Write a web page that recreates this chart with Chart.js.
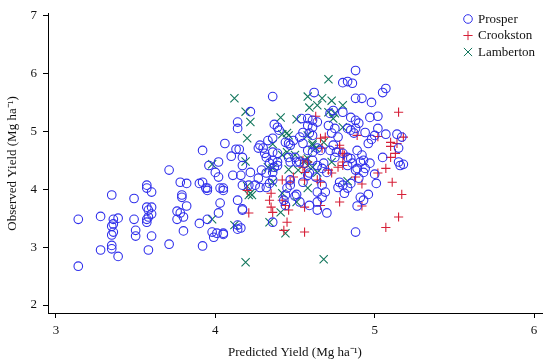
<!DOCTYPE html>
<html>
<head>
<meta charset="utf-8">
<script src="https://cdn.jsdelivr.net/npm/chart.js@4/dist/chart.umd.min.js"></script>
<style>
  html, body { margin: 0; padding: 0; background: #fff; }
  #wrap { width: 550px; height: 364px; position: relative; }
</style>
</head>
<body>
<div id="wrap"><canvas id="chart" width="550" height="364"></canvas></div>
<script>
// ===== Observed vs predicted yield, three sites =====

const xTicks = [3, 4, 5, 6];
const yTicks = [2, 3, 4, 5, 6, 7];
const siteNames = ['Prosper', 'Crookston', 'Lamberton'];

// [predicted, observed] in Mg/ha
const prosper = [
  [3.14,3.48],[3.14,2.67],[3.28,3.53],[3.28,2.95],[3.35,3.90],[3.36,3.48],[3.39,3.50],[3.35,3.36],
  [3.36,3.40],[3.36,3.26],[3.35,3.21],[3.35,3.03],[3.35,2.97],[3.39,2.84],[3.49,3.84],[3.49,3.48],
  [3.50,3.29],[3.50,3.19],[3.57,4.07],[3.57,4.02],[3.60,3.95],[3.57,3.69],[3.58,3.64],[3.60,3.69],
  [3.60,3.57],[3.57,3.48],[3.57,3.43],[3.58,3.52],[3.60,3.19],[3.58,2.95],[3.71,4.33],[3.78,4.12],
  [3.82,4.10],[3.79,3.90],[3.79,3.86],[3.82,3.71],[3.76,3.62],[3.78,3.59],[3.80,3.52],[3.76,3.48],
  [3.80,3.28],[3.71,3.05],[3.90,4.10],[3.94,4.02],[3.92,3.02],[3.96,4.41],[3.92,4.67],
  [4.14,5.16],[4.14,5.05],[4.06,4.79],[4.13,4.69],[4.15,4.69],[4.10,4.57],[4.02,4.47],[4.00,4.29],
  [4.02,4.21],[4.11,4.24],[3.92,4.12],[3.95,4.02],[4.03,4.02],[4.05,4.02],[4.62,5.67],
  [3.95,3.98],[4.05,3.98],[4.03,3.76],[4.14,3.81],[4.17,3.66],[4.02,3.59],[3.90,3.41],[3.95,3.48],
  [3.98,3.26],[3.99,3.17],[4.01,3.24],[4.05,3.24],[4.05,3.22],[4.14,3.38],[4.14,3.31],[4.36,3.43],
  [4.44,3.90],[4.43,3.81],[4.44,3.72],[4.51,3.91],
  [4.36,5.60],[4.22,5.34],[4.37,5.12],[4.39,5.07],[4.40,5.02],[4.36,4.88],[4.33,4.84],[4.28,4.76],
  [4.27,4.71],[4.30,4.71],[4.44,4.81],[4.46,4.79],[4.47,4.76],[4.49,4.84],[4.17,4.55],[4.17,4.41],
  [4.16,4.24],[4.31,4.62],[4.36,4.64],[4.39,4.62],[4.32,4.55],[4.36,4.50],[4.34,4.45],[4.39,4.47],
  [4.39,4.41],[4.37,4.38],[4.22,4.29],[4.29,4.33],[4.32,4.28],[4.36,4.29],[4.46,4.55],[4.47,4.47],
  [4.50,4.55],[4.51,4.47],[4.27,4.19],[4.25,4.07],[4.28,4.03],[4.32,4.03],[4.34,4.10],[4.36,4.16],
  [4.17,4.07],[4.21,4.07],[4.47,4.16],[4.47,4.07],[4.45,4.02],[4.50,3.88],[4.17,3.64],[4.16,3.33],
  [4.74,5.36],[4.72,5.31],[4.80,5.33],[4.85,5.24],[4.54,5.22],[4.58,5.22],[4.61,5.19],[4.58,5.10],
  [4.61,5.07],[4.64,5.16],[4.55,4.98],[4.59,4.97],[4.53,4.90],[4.61,4.93],[4.71,5.10],[4.75,5.05],
  [4.73,4.97],[4.77,4.90],[4.83,5.05],[4.85,5.02],[4.87,4.97],[4.55,4.79],[4.58,4.67],[4.61,4.64],
  [4.64,4.71],[4.66,4.67],[4.74,4.76],[4.72,4.67],[4.76,4.64],[4.75,4.55],[4.80,4.62],[4.83,4.55],
  [4.85,4.53],[4.86,4.45],[4.83,4.41],[4.53,4.47],[4.56,4.45],[4.61,4.50],[4.64,4.41],[4.68,4.45],
  [4.67,4.36],[4.70,4.29],[4.58,4.24],[4.59,4.28],[4.63,4.21],[4.55,4.12],[4.67,4.07],[4.64,3.95],
  [4.67,3.86],[4.69,3.95],[4.78,4.12],[4.80,4.07],[4.77,4.03],[4.83,4.02],[4.81,3.93],[4.85,4.10],
  [4.90,4.19],[4.89,4.36],[4.53,3.78],[4.59,3.72],[4.64,3.78],[4.64,3.64],[4.70,3.59],[4.88,3.26],
  [5.07,5.74],[5.05,5.67],[4.88,5.57],[4.92,5.57],[4.98,5.50],[4.97,5.24],[5.02,5.26],[4.88,5.19],
  [4.90,5.14],[4.88,5.05],[4.94,4.98],[5.02,5.05],[5.00,4.93],[4.98,4.86],[4.96,4.79],[5.07,4.95],
  [5.14,4.95],[5.17,4.90],[4.89,4.67],[4.92,4.59],[4.93,4.50],[4.91,4.47],[4.97,4.45],[4.94,4.36],
  [4.93,4.29],[5.05,4.55],[5.15,4.71],[5.15,4.47],[5.16,4.41],[5.18,4.43],[4.88,4.33],[5.00,4.26],
  [5.01,4.10],[4.91,3.86],[4.93,3.81],[4.89,3.71],[4.96,3.91],
  [4.88,6.05],[4.80,5.84],[4.83,5.86],[4.86,5.83]
];

const crookston = [
  [4.63,5.26],[4.69,4.90],[4.66,4.88],[4.67,4.71],[4.89,4.93],[4.78,4.76],[4.80,4.62],[4.81,4.59],
  [4.80,4.41],[4.77,4.38],[4.55,4.50],[4.58,4.47],[4.55,4.38],[4.56,4.29],[4.71,4.33],[4.73,4.28],
  [4.64,4.16],[4.66,4.12],[4.78,3.78],[4.66,3.72],[4.56,3.69],[4.56,3.26],[4.49,4.21],[4.47,4.12],
  [4.42,4.16],[4.20,3.98],[4.35,3.93],[4.34,3.81],[4.35,3.69],[4.36,3.60],[4.42,3.81],[4.44,3.72],
  [4.46,3.64],[4.45,3.43],[4.43,3.29],[4.21,3.59],[5.15,5.33],[5.02,4.91],[5.10,4.81],[5.10,4.74],
  [5.14,4.79],[5.18,4.90],[5.13,4.62],[5.10,4.55],[5.07,4.36],[5.02,4.28],[5.11,4.12],[4.92,4.09],
  [5.17,3.91],[4.88,4.21],[4.92,3.71],[5.15,3.52],[5.07,3.34],[4.56,4.16],[4.78,4.71],[4.80,4.47]
];

const lamberton = [
  [4.12,5.57],[4.58,5.60],[4.19,5.34],[4.22,5.16],[4.59,5.41],[4.41,5.24],[4.51,5.21],[4.20,4.88],
  [4.45,4.97],[4.46,4.93],[4.42,4.95],[4.61,4.79],[4.36,4.78],[4.19,4.48],[3.98,4.43],[4.45,4.64],
  [4.46,4.34],[4.58,4.53],[4.36,4.12],[4.20,4.05],[4.58,4.02],[4.21,3.90],[4.23,3.90],[3.98,3.48],
  [4.12,3.38],[4.34,3.43],[4.41,3.60],[4.51,3.78],[4.44,3.24],[4.19,2.74],[4.68,2.79],[4.83,4.14],
  [4.42,4.59],[4.50,4.59],[4.33,4.38],[4.36,4.36],[4.52,4.33],[4.22,3.93],[4.42,3.93],[4.67,5.57],
  [4.73,5.53],[4.80,5.45],[4.64,5.45],[4.71,5.33],[4.75,5.31],[4.74,5.22],[4.80,5.07],[4.58,4.93],
  [4.61,4.76],[4.63,4.71],[4.68,4.81],[4.56,4.50],[4.58,4.41],[4.61,4.38],[4.64,4.29],[4.73,4.47],
  [4.71,5.90]
];

const SITE_COLORS = ['rgb(48,48,235)', 'rgb(214,32,56)', 'rgb(18,118,92)'];
const SITE_STYLES = ['circle', 'cross', 'crossRot'];
const SITE_RADIUS = [4.3, 4.6, 5.8];
const FONT = "'Liberation Serif', 'Times New Roman', serif";

const toPts = arr => arr.map(([x, y]) => ({ x, y }));

// legend drawn inside the plot, top right
const legendBox = {
  id: 'legendBox',
  afterDraw(chart) {
    const { ctx, chartArea } = chart;
    const mx = chartArea.right - 74;
    ctx.save();
    chart.data.datasets.forEach((ds, i) => {
      const y = 19 + i * 16.5;
      const r = SITE_RADIUS[i];
      ctx.strokeStyle = SITE_COLORS[i];
      ctx.lineWidth = 1;
      ctx.beginPath();
      if (i === 0) {
        ctx.arc(mx, y, r, 0, Math.PI * 2);
      } else if (i === 1) {
        ctx.moveTo(mx - r, y); ctx.lineTo(mx + r, y);
        ctx.moveTo(mx, y - r); ctx.lineTo(mx, y + r);
      } else {
        const d = r * Math.SQRT1_2;
        ctx.moveTo(mx - d, y - d); ctx.lineTo(mx + d, y + d);
        ctx.moveTo(mx - d, y + d); ctx.lineTo(mx + d, y - d);
      }
      ctx.stroke();
      ctx.fillStyle = '#111';
      ctx.font = `13px ${FONT}`;
      ctx.textBaseline = 'middle';
      ctx.textAlign = 'left';
      ctx.fillText(ds.label, mx + 10, y + 0.5);
    });
    ctx.restore();
  }
};

const axisCommon = {
  grid: { display: true, drawOnChartArea: false, drawTicks: true, tickLength: 5, color: '#000', lineWidth: 1 },
  border: { display: true, color: '#000', width: 1 },
};
const tickFont = { family: FONT, size: 13 };
const titleFont = { family: FONT, size: 13 };

new Chart(document.getElementById('chart'), {
  type: 'scatter',
  data: {
    datasets: [prosper, crookston, lamberton].map((arr, i) => ({
      label: siteNames[i],
      data: toPts(arr),
      pointStyle: SITE_STYLES[i],
      pointRadius: SITE_RADIUS[i],
      pointBorderWidth: 1.1,
      borderColor: SITE_COLORS[i],
      backgroundColor: 'rgba(0,0,0,0)',
      pointHoverRadius: SITE_RADIUS[i],
    })),
  },
  options: {
    responsive: false,
    animation: false,
    devicePixelRatio: 1,
    layout: { padding: { top: 13, right: 8, left: 0, bottom: 0 } },
    plugins: { legend: { display: false }, tooltip: { enabled: false } },
    scales: {
      x: {
        ...axisCommon,
        type: 'linear',
        min: 2.95, max: 6.05,
        ticks: { color: '#111', font: tickFont, padding: 5 },
        afterBuildTicks: s => { s.ticks = xTicks.map(v => ({ value: v })); },
        afterFit: s => { s.height = 51; },
        title: { display: true, text: 'Predicted Yield (Mg ha⁻¹)', color: '#111',
                 font: titleFont, padding: { top: 0, bottom: 4 } },
      },
      y: {
        ...axisCommon,
        type: 'linear',
        min: 1.862, max: 7.03,
        ticks: { color: '#111', font: tickFont, padding: 6 },
        afterBuildTicks: s => { s.ticks = yTicks.map(v => ({ value: v })); },
        afterFit: s => { s.width = 48; },
        title: { display: true, text: 'Observed Yield (Mg ha⁻¹)', color: '#111',
                 font: titleFont, padding: { top: 5, bottom: 0 } },
      },
    },
  },
  plugins: [legendBox],
});
</script>
</body>
</html>
